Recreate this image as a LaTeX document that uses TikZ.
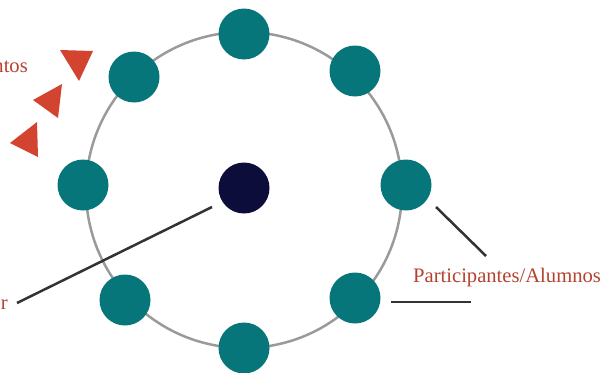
\documentclass[tikz,border=0pt]{standalone}
\usepackage{fontspec}
\setmainfont{Liberation Serif}
\usetikzlibrary{arrows.meta}
\definecolor{nodeteal}{HTML}{07767A}
\definecolor{nodenavy}{HTML}{0D0D3B}
\definecolor{labelred}{HTML}{B5412F}
\definecolor{markred}{HTML}{D24430}
\definecolor{ringgray}{HTML}{9A9A9A}
\definecolor{linegray}{HTML}{333333}

\begin{document}
\begin{tikzpicture}[x=1pt,y=-1pt]
\useasboundingbox (0,0) rectangle (604,372);

% ring
\node (ring) [circle,draw=ringgray,line width=2.5pt,minimum size=316pt,inner sep=0pt] at (244,190) {};

\begin{scope}[every node/.style={circle,fill=nodeteal,minimum size=51pt,inner sep=0pt}]
    \node (N) at (244,34) {};
    \node (NE) at (355,71) {};
    \node (NW) at (134,77) {};
    \node (W) at (83,185) {};
    \node (E) at (406,185) {};
    \node (SW) at (125,300) {};
    \node (SE) at (355,298) {};
    \node (S) at (244,348) {};
\end{scope}
\node (C) [circle,fill=nodenavy,minimum size=51pt,inner sep=0pt] at (244,188) {};

% labels
\begin{scope}[every node/.style={text=labelred,font=\fontsize{20.6}{24}\selectfont,inner sep=0pt}]
    \node (mov) [anchor=base east] at (28,72) {ntos};
    \node (fac) [anchor=base east] at (8,309) {r};
    \node (part) [anchor=base west] at (413,282) {Participantes/Alumnos};
\end{scope}

% pointers
\coordinate (f1) at (17,303);
\coordinate (f2) at (212,207);
\coordinate (p1) at (436,207);
\coordinate (p2) at (486,256);
\coordinate (q1) at (391,302);
\coordinate (q2) at (471,302);
\begin{scope}[every path/.style={draw=linegray,line width=2.5pt}]
    \path [-] (f1) edge (f2);
    \path [-] (p1) edge (p2);
    \path [-] (q1) edge (q2);
\end{scope}

% triangles
\begin{scope}[every path/.style={fill=markred}]
    \fill (60,50) -- (93,51) -- (79,81) -- cycle;
    \fill (33,100) -- (62,84) -- (58,118) -- cycle;
    \fill (10,143) -- (37,122) -- (38,157) -- cycle;
\end{scope}
\end{tikzpicture}
\end{document}
